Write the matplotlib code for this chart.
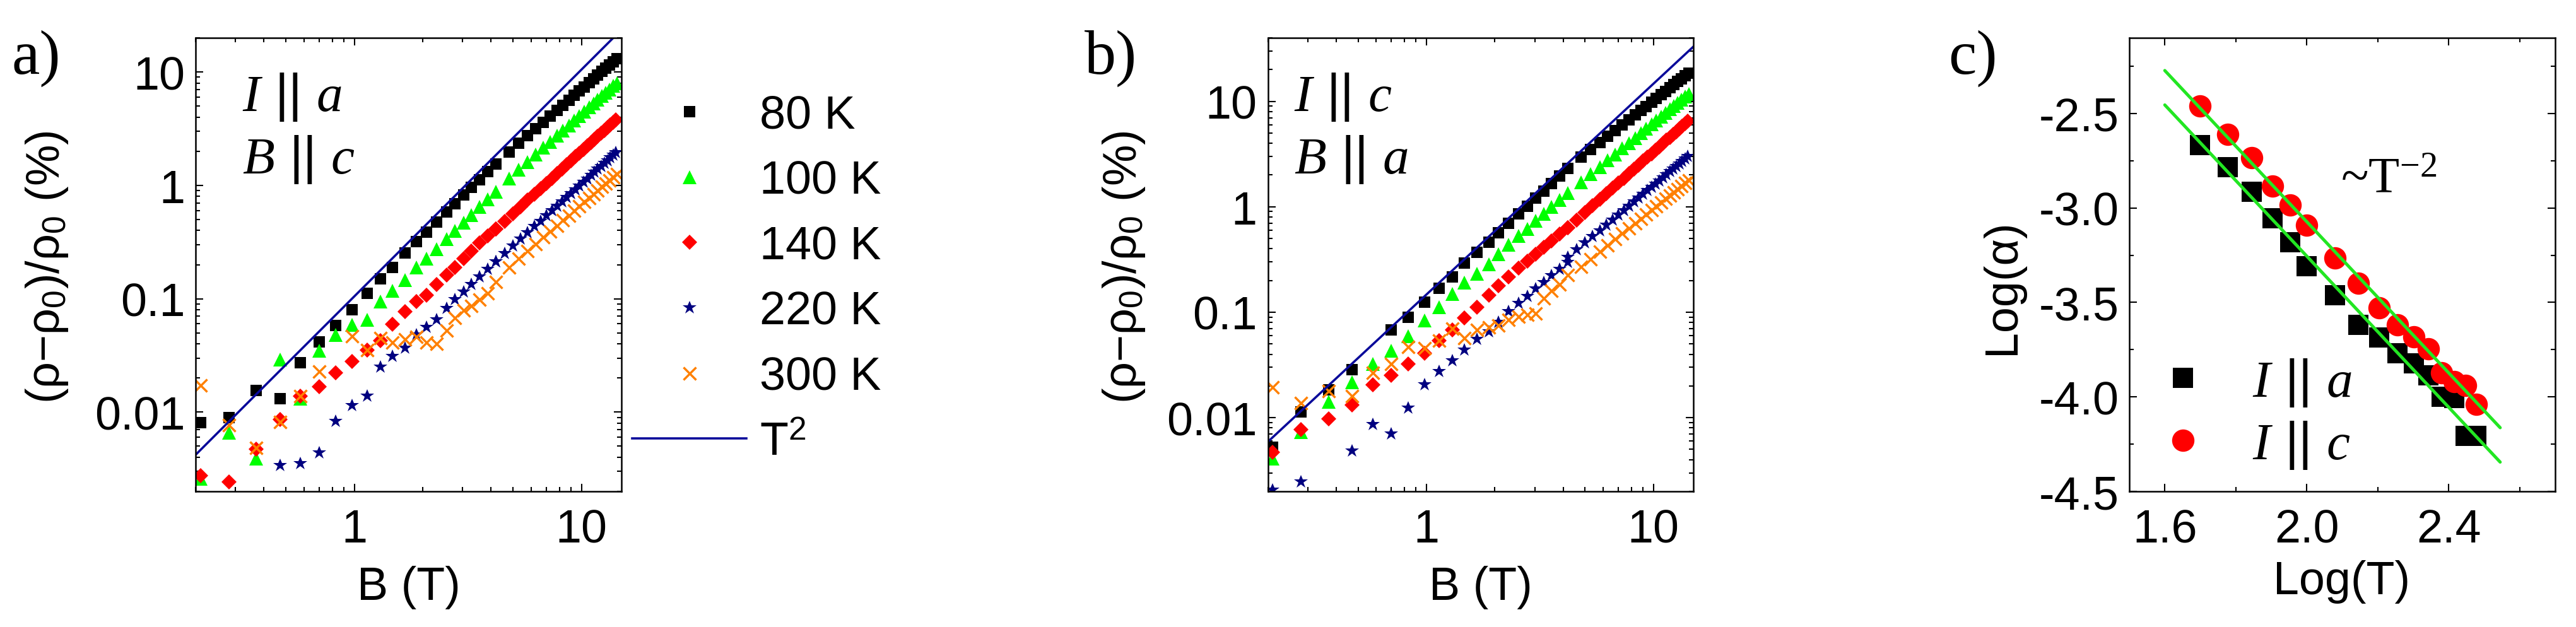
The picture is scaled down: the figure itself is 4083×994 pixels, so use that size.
import numpy as np
import matplotlib
matplotlib.use('Agg')
import matplotlib.pyplot as plt
from matplotlib.ticker import FixedLocator, FixedFormatter, NullFormatter

plt.rcParams['font.family'] = ['Liberation Sans', 'DejaVu Sans']
plt.rcParams['mathtext.fontset'] = 'custom'
plt.rcParams['mathtext.rm'] = 'Liberation Serif'
plt.rcParams['mathtext.it'] = 'Liberation Serif:italic'
plt.rcParams['mathtext.sf'] = 'Liberation Sans'
plt.rcParams['mathtext.bf'] = 'Liberation Serif:bold'
plt.rcParams['axes.unicode_minus'] = False

nan = float('nan')

# ---------------- data ----------------
# magnetic field values (T)
B_low = [0.21, 0.28, 0.37, 0.47, 0.58, 0.70, 0.83, 0.98, 1.14, 1.30, 1.47,
         1.67, 1.88, 2.08, 2.30, 2.55, 2.78, 3.03, 3.28, 3.56, 3.86, 4.19]
B_hi = [4.8, 5.3, 5.8, 6.3, 6.8, 7.3, 7.8, 8.3, 8.8, 9.3, 9.8, 10.3, 10.8,
        11.3, 11.8, 12.3, 12.8, 13.3, 13.8, 14.3]
B_fine = [4.2, 4.6, 5.0, 5.4, 5.8, 6.2, 6.6, 7.0, 7.4, 7.8, 8.2, 8.6, 9.0,
          9.4, 9.8, 10.2, 10.6, 11.0, 11.4, 11.8, 12.2, 12.6, 13.0, 13.4,
          13.8, 14.2]

temps = ['80 K', '100 K', '140 K', '220 K', '300 K']

# panel a: I || a, B || c   (MR in %)
a80_low = [0.0081, 0.0089, 0.0155, 0.0131, 0.0272, 0.0417, 0.0582, 0.0805, 0.111, 0.150, 0.19,
           0.252, 0.319, 0.389, 0.477, 0.584, 0.692, 0.819, 0.956, 1.124, 1.317, 1.55]
a80_hi = [1.97, 2.34, 2.74, 3.16, 3.61, 4.08, 4.58, 5.10, 5.64, 6.21, 6.80, 7.41, 8.05,
          8.71, 9.39, 10.09, 10.81, 11.55, 12.32, 13.10]
a100_low = [0.0026, 0.0066, 0.0039, 0.0292, 0.0131, 0.0346, 0.048, 0.059, 0.0656, 0.095, 0.117,
            0.147, 0.188, 0.227, 0.273, 0.334, 0.396, 0.468, 0.547, 0.642, 0.75, 0.88]
a100_hi = [1.15, 1.37, 1.61, 1.87, 2.14, 2.42, 2.73, 3.04, 3.38, 3.73, 4.09, 4.47, 4.86,
           5.27, 5.69, 6.12, 6.57, 7.03, 7.51, 8.00]
a140_low = [0.00277, 0.00242, 0.00469, 0.0086, 0.0139, 0.0167, 0.0221, 0.0279, 0.0353, 0.0425, 0.0597,
            0.0766, 0.095, 0.108, 0.134, 0.161, 0.188, 0.227, 0.265, 0.31, 0.36, 0.41]
a140_hi = [0.41, 0.484, 0.564, 0.649, 0.740, 0.836, 0.937, 1.043, 1.155, 1.271, 1.393, 1.520,
           1.651, 1.788, 1.930, 2.076, 2.227, 2.383, 2.544, 2.709, 2.880, 3.054, 3.235, 3.418,
           3.607, 3.801]
a220_low = [nan, nan, nan, 0.00337, 0.0035, 0.00435, 0.0083, 0.0114, 0.0139, 0.0251, 0.0311,
            0.0368, 0.048, 0.0561, 0.0656, 0.0824, 0.098, 0.1146, 0.134, 0.156, 0.182, 0.213]
a220_hi = [0.213, 0.251, 0.292, 0.336, 0.382, 0.432, 0.483, 0.538, 0.595, 0.654, 0.716, 0.781,
           0.848, 0.918, 0.990, 1.064, 1.141, 1.220, 1.302, 1.386, 1.472, 1.561, 1.652, 1.745,
           1.841, 1.939]
a300_low = [0.01725, 0.0077, 0.00484, 0.0082, 0.0139, 0.0228, nan, 0.0466, 0.0352, 0.0452, 0.0412,
            0.0438, 0.046, 0.0412, 0.0399, 0.0527, 0.0676, 0.079, 0.0867, 0.098, 0.111, 0.14]
a300_hi = [0.190, 0.226, 0.264, 0.304, 0.348, 0.393, 0.441, 0.491, 0.543, 0.598, 0.655, 0.714,
           0.775, 0.838, 0.903, 0.971, 1.040, 1.111, 1.185, 1.260]

# panel b: I || c, B || a
b80_low = [0.00523, 0.0113, 0.01845, 0.0285, nan, 0.0676, 0.0894, 0.1247, 0.1694, 0.2168, 0.292,
           0.37, 0.46, 0.57, 0.696, 0.856, 1.017, 1.208, 1.416, 1.667, 1.96, 2.31]
b80_hi = [2.95, 3.49, 4.06, 4.66, 5.30, 5.97, 6.68, 7.41, 8.18, 8.97, 9.80, 10.65, 11.54,
          12.45, 13.39, 14.36, 15.36, 16.38, 17.43, 18.51]
b100_low = [0.00412, 0.00726, 0.0141, 0.0218, 0.0325, 0.043, 0.0592, 0.0836, 0.1114, 0.150, 0.190,
            0.232, 0.283, 0.357, 0.436, 0.528, 0.62, 0.733, 0.855, 1.0, 1.16, 1.35]
b100_hi = [1.70, 2.03, 2.38, 2.75, 3.15, 3.58, 4.02, 4.49, 4.98, 5.50, 6.03, 6.59, 7.17,
           7.77, 8.39, 9.03, 9.69, 10.37, 11.08, 11.80]
b140_low = [0.00471, 0.00776, 0.0098, 0.0132, 0.0204, 0.0252, 0.0325, 0.041, 0.0535, 0.0676, 0.0883,
            0.1114, 0.1455, 0.1776, 0.217, 0.261, 0.305, 0.356, 0.411, 0.477, 0.551, 0.63]
b140_hi = [0.630, 0.750, 0.880, 1.020, 1.169, 1.329, 1.498, 1.677, 1.865, 2.063, 2.270, 2.487,
           2.713, 2.949, 3.194, 3.449, 3.713, 3.986, 4.268, 4.560, 4.861, 5.170, 5.490, 5.818,
           6.155, 6.502]
b220_low = [0.00205, 0.00247, nan, 0.00486, 0.00857, 0.00702, 0.01236, 0.0204, 0.0275, 0.0347, 0.0438,
            0.0553, 0.0653, 0.0797, 0.1007, 0.121, 0.1416, 0.1653, 0.191, 0.221, 0.256, 0.295]
b220_hi = [0.330, 0.389, 0.453, 0.520, 0.592, 0.668, 0.748, 0.833, 0.921, 1.013, 1.109, 1.209,
           1.313, 1.420, 1.532, 1.647, 1.766, 1.889, 2.015, 2.145, 2.279, 2.416, 2.557, 2.701,
           2.849, 3.000]
b300_low = [0.0194, 0.0137, 0.0178, 0.0161, 0.0266, 0.0325, 0.0469, 0.0453, 0.0535, 0.0698, 0.0572,
            0.0676, 0.0723, 0.0747, 0.0853, 0.0912, 0.0944, 0.0975, 0.136, 0.1606, 0.1836, 0.2243]
b300_hi = [0.270, 0.320, 0.374, 0.432, 0.493, 0.557, 0.625, 0.696, 0.769, 0.847, 0.927, 1.010,
           1.096, 1.185, 1.277, 1.372, 1.470, 1.570, 1.674, 1.780]

# T^2 guide lines (end points)
T2_B = [0.2, 15.0]
T2_a = [0.0042, 23.6]
T2_b = [0.0059, 33.0]

# panel c: Log(alpha) vs Log(T)
logT = [1.699, 1.778, 1.845, 1.903, 1.954, 2.000, 2.079, 2.146, 2.204, 2.255, 2.301,
        2.342, 2.380, 2.415, 2.447, 2.477]
logA_Ia = [-2.667, -2.784, -2.913, -3.054, -3.181, -3.310, -3.461, -3.618, -3.686, -3.768,
           -3.824, -3.887, -4.000, -4.005, -4.207, -4.207]
logA_Ic = [-2.460, -2.610, -2.735, -2.886, -2.986, -3.092, -3.265, -3.400, -3.529, -3.618,
           -3.683, -3.746, -3.873, -3.920, -3.940, -4.040]
fit_x = [1.60, 2.545]
fit_Ic = [-2.273, -4.163]
fit_Ia = [-2.455, -4.345]

# ---------------- figure ----------------
W, H = 4083, 995
fig = plt.figure(figsize=(W / 100, H / 100), dpi=100)


def rect(l, t, r, b):
    return [l / W, 1 - b / H, (r - l) / W, (b - t) / H]


axa = fig.add_axes(rect(310, 61, 985, 780))
axb = fig.add_axes(rect(2009.5, 61, 2684, 780))
axc = fig.add_axes(rect(3375, 61, 4050, 780))

styles = [
    dict(marker='s', color='black', ms=12.5, mew=0),
    dict(marker='^', color='#00FF00', ms=15.5, mew=0),
    dict(marker='D', color='#FF0000', ms=11.8, mew=0),
    dict(marker='*', color='#000080', ms=16.5, mew=0),
    dict(marker='x', color='#FF8000', ms=14.5, mew=2.5),
]

FS = 53
LINE_C = '#0A0A9A'

panel_a = [(B_low + B_hi, a80_low + a80_hi), (B_low + B_hi, a100_low + a100_hi),
           (B_low + B_fine, a140_low + a140_hi), (B_low + B_fine, a220_low + a220_hi),
           (B_low + B_hi, a300_low + a300_hi)]
panel_b = [(B_low + B_hi, b80_low + b80_hi), (B_low + B_hi, b100_low + b100_hi),
           (B_low + B_fine, b140_low + b140_hi), (B_low + B_fine, b220_low + b220_hi),
           (B_low + B_hi, b300_low + b300_hi)]

handles = []
for ax, series, t2 in ((axa, panel_a, T2_a), (axb, panel_b, T2_b)):
    hs = []
    for (x, y), st, lab in zip(series, styles, temps):
        h, = ax.plot(x, y, linestyle='none', marker=st['marker'], color=st['color'],
                     markersize=st['ms'], markeredgewidth=st['mew'],
                     markeredgecolor=st['color'], label=lab)
        hs.append(h)
    hl, = ax.plot(T2_B, t2, color=LINE_C, lw=2.6, label='T$^\\mathsf{2}$')
    hs.append(hl)
    if ax is axa:
        handles = hs
    ax.set_xscale('log')
    ax.set_yscale('log')
    ax.set_xlim(0.2, 15)
    ax.set_ylim(0.002, 20 if ax is axa else 40)
    ax.xaxis.set_major_locator(FixedLocator([1, 10]))
    ax.xaxis.set_major_formatter(FixedFormatter(['1', '10']))
    xm = [v * d for d in (0.1, 1, 10) for v in range(2, 10) if 0.2 <= v * d <= 15]
    ax.xaxis.set_minor_locator(FixedLocator(xm))
    ax.xaxis.set_minor_formatter(NullFormatter())
    ax.yaxis.set_major_locator(FixedLocator([0.01, 0.1, 1, 10]))
    ax.yaxis.set_major_formatter(FixedFormatter(['0.01', '0.1', '1', '10']))
    ym = [v * d for d in (0.001, 0.01, 0.1, 1, 10) for v in range(2, 10) if 0.002 <= v * d <= 40]
    ax.yaxis.set_minor_locator(FixedLocator(ym))
    ax.yaxis.set_minor_formatter(NullFormatter())

# panel c
axc.plot(logT, logA_Ia, linestyle='none', marker='s', color='black', markersize=23.5,
         markeredgewidth=0, label='$I$ || $a$')
axc.plot(logT, logA_Ic, linestyle='none', marker='o', color='#FF0000', markersize=25.5,
         markeredgewidth=0, label='$I$ || $c$')
axc.plot(fit_x, fit_Ic, color='#22E622', lw=3.6, solid_capstyle='round')
axc.plot(fit_x, fit_Ia, color='#22E622', lw=3.6, solid_capstyle='round')
axc.set_xlim(1.5, 2.7)
axc.set_ylim(-4.5, -2.1)
axc.xaxis.set_major_locator(FixedLocator([1.6, 2.0, 2.4]))
axc.xaxis.set_major_formatter(FixedFormatter(['1.6', '2.0', '2.4']))
axc.xaxis.set_minor_locator(FixedLocator([1.8, 2.2, 2.6]))
axc.yaxis.set_major_locator(FixedLocator([-2.5, -3.0, -3.5, -4.0, -4.5]))
axc.yaxis.set_major_formatter(FixedFormatter(['-2.5', '-3.0', '-3.5', '-4.0', '-4.5']))
axc.yaxis.set_minor_locator(FixedLocator([-2.25, -2.75, -3.25, -3.75, -4.25]))

for ax in (axa, axb, axc):
    for s in ax.spines.values():
        s.set_linewidth(1.8)
    ax.tick_params(which='both', direction='in', top=True, right=True, width=1.5,
                   labelsize=FS)
    ax.tick_params(which='major', length=8.6)
    ax.tick_params(which='minor', length=5)
    ax.tick_params(axis='x', which='both', pad=19)
    ax.tick_params(axis='y', which='both', pad=12)

# orientation labels
for ax, l1, l2 in ((axa, '$I$ || $a$', '$B$ || $c$'), (axb, '$I$ || $c$', '$B$ || $a$')):
    xf = 0.1096 if ax is axa else 0.0615
    ax.text(xf, 0.840, l1, transform=ax.transAxes, fontsize=60, ha='left', va='baseline')
    ax.text(xf, 0.702, l2, transform=ax.transAxes, fontsize=60, ha='left', va='baseline')

# panel labels
for x, s in ((18, 'a)'), (1719, 'b)'), (3088, 'c)')):
    fig.text(x / W, 1 - 117 / H, s, family='Liberation Serif', fontsize=72,
             ha='left', va='baseline')

ylab = '(ρ−ρ$_\\mathsf{0}$)/ρ$_\\mathsf{0}$ (%)'
fig.text(75 / W, 1 - 424 / H, ylab, rotation=90, ha='center', va='center', fontsize=FS)
fig.text(1782 / W, 1 - 424 / H, ylab, rotation=90, ha='center', va='center', fontsize=FS)
fig.text(3174 / W, 1 - 455 / H, 'Log(α)', rotation=90, ha='center', va='center', fontsize=FS)
fig.text(647.5 / W, 1 - 932 / H, 'B (T)', ha='center', va='center', fontsize=FS)
fig.text(2347 / W, 1 - 932 / H, 'B (T)', ha='center', va='center', fontsize=FS)
fig.text(3712 / W, 1 - 923 / H, 'Log(T)', ha='center', va='center', fontsize=FS)

axc.text(2.095, -2.918, '~T$^{-2}$', family='Liberation Serif', fontsize=58,
         ha='left', va='baseline')

# legends
axa.legend(handles=handles, loc='upper left', bbox_to_anchor=(1002 / W, 1 - 150 / H),
           bbox_transform=fig.transFigure, frameon=False, borderpad=0, borderaxespad=0,
           handlelength=2.46, handletextpad=0.29, labelspacing=0.47, fontsize=FS,
           numpoints=1, markerscale=1.0)
axc.legend(loc='upper left', bbox_to_anchor=(3420 / W, 1 - 566 / H),
           bbox_transform=fig.transFigure, frameon=False, borderpad=0, borderaxespad=0,
           handlelength=0.96, handletextpad=0.84, labelspacing=0.2, fontsize=60,
           numpoints=1)

fig.savefig('out.png', dpi=100)
